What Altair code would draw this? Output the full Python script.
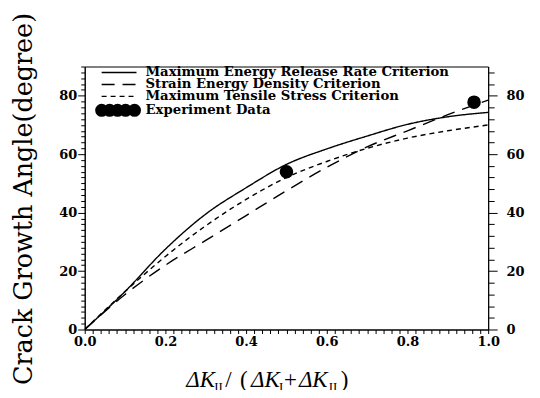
import altair as alt
import pandas as pd

# ---- data ----
x_vals = [0.0, 0.1, 0.2, 0.3, 0.4, 0.5, 0.6, 0.7, 0.8, 0.9, 1.0]
energy_release = [0.0, 13.0, 27.5, 39.5, 48.5, 56.5, 61.8, 66.2, 70.2, 72.8, 74.3]
strain_energy = [0.0, 12.0, 22.0, 30.5, 39.0, 47.5, 55.5, 62.5, 68.0, 73.5, 78.5]
tensile_stress = [0.0, 13.0, 25.0, 35.5, 44.5, 52.0, 57.5, 62.0, 65.5, 68.0, 70.0]
exp_x = [0.5, 0.965]
exp_y = [54.0, 77.8]

series_names = [
    "Maximum Energy Release Rate Criterion",
    "Strain Energy Density Criterion",
    "Maximum Tensile Stress Criterion",
    "Experiment Data",
]
series_values = [energy_release, strain_energy, tensile_stress]
x_ticks = [round(i * 0.02, 2) for i in range(51)]
y_ticks_left = list(range(0, 91, 2))
y_ticks_right = list(range(0, 89, 4))

# ---- layout / style ----
W, H = 405, 264
dashes = [[1, 0], [13, 8], [5, 4]]
LBL_FONT = "DejaVu Serif"
BLACK = "black"

rows = []
for name, vals in zip(series_names[:3], series_values):
    for xv, yv in zip(x_vals, vals):
        rows.append({"x": xv, "y": yv, "series": name})
df_lines = pd.DataFrame(rows)
df_exp = pd.DataFrame({"x": exp_x, "y": exp_y})

xscale = alt.Scale(domain=[0, 1], nice=False, zero=False)
yscale = alt.Scale(domain=[0, 90], nice=False, zero=False)

xaxis = alt.Axis(
    values=x_ticks, title=None, grid=False, format=".1f", orient="bottom",
    labelExpr="round(datum.value*100) % 20 === 0 ? datum.label : ''",
    tickSize=4, tickColor=BLACK, domainColor=BLACK, labelColor=BLACK,
    labelFont=LBL_FONT, labelFontWeight="bold", labelFontSize=13,
    labelPadding=2, labelFlush=False, labelOverlap=False,
)
yaxis_left = alt.Axis(
    values=y_ticks_left, title=None, grid=False, orient="left",
    labelExpr="datum.value % 20 === 0 ? datum.label : ''",
    tickSize={"condition": {"test": "datum.value % 20 === 0", "value": 7}, "value": 4},
    tickColor=BLACK, domainColor=BLACK, labelColor=BLACK,
    labelFont=LBL_FONT, labelFontWeight="bold", labelFontSize=13,
    labelPadding=1, labelOverlap=False,
)
yaxis_right = alt.Axis(
    values=y_ticks_right, title=None, grid=False, orient="right",
    labelExpr="datum.value % 20 === 0 ? datum.label : ''",
    tickSize={"condition": {"test": "datum.value % 20 === 0", "value": 9}, "value": 6},
    tickColor=BLACK, domainColor=BLACK, labelColor=BLACK,
    labelFont=LBL_FONT, labelFontWeight="bold", labelFontSize=13,
    labelPadding=9, labelOverlap=False,
)

lines = alt.Chart(df_lines).mark_line(
    color=BLACK, strokeWidth=1.4, interpolate="monotone", clip=True
).encode(
    x=alt.X("x:Q", scale=xscale, axis=xaxis),
    y=alt.Y("y:Q", scale=yscale, axis=yaxis_left),
    strokeDash=alt.StrokeDash(
        "series:N",
        scale=alt.Scale(domain=series_names[:3], range=dashes),
        legend=None,
    ),
    detail="series:N",
)

points = alt.Chart(df_exp).mark_circle(color=BLACK, opacity=1, size=185).encode(
    x=alt.X("x:Q", scale=xscale, axis=xaxis),
    y=alt.Y("y:Q", scale=yscale, axis=yaxis_right),
)

one = pd.DataFrame({"k": [0]})

# ---- manual legend (pixel positions) ----
row_y = [6, 18, 30, 44]
lx0, lx1, tx = 17, 52, 61
legend_layers = []
for i in range(3):
    legend_layers.append(
        alt.Chart(one).mark_rule(
            color=BLACK, strokeWidth=1.4, strokeDash=dashes[i]
        ).encode(x=alt.value(lx0), x2=alt.value(lx1), y=alt.value(row_y[i]))
    )
for px in [17, 25, 33, 41, 50]:
    legend_layers.append(
        alt.Chart(one).mark_circle(color=BLACK, opacity=1, size=170).encode(
            x=alt.value(px), y=alt.value(row_y[3])
        )
    )
for i, name in enumerate(series_names):
    legend_layers.append(
        alt.Chart(one).mark_text(
            align="left", baseline="middle", font=LBL_FONT, fontWeight="bold",
            fontSize=13.3, color=BLACK, text=name,
        ).encode(x=alt.value(tx), y=alt.value(row_y[i]))
    )

# ---- axis titles as text ----
ytitle = alt.Chart(one).mark_text(
    angle=270, align="center", baseline="middle", font="DejaVu Serif",
    fontSize=25.5, color=BLACK, text="Crack Growth Angle(degree)",
).encode(x=alt.value(-61), y=alt.value(133))

# x title pieces: (text, left x, is_subscript)
pieces = [
    ("\u0394K", 102, False), ("II", 130, True), ("/", 141, False), ("(", 156, False),
    ("\u0394K", 167, False), ("I", 195, True), ("+", 200, False),
    ("\u0394K", 215, False), ("II", 245, True), (")", 257, False),
]
xtitle_layers = []
for txt, px, sub in pieces:
    xtitle_layers.append(
        alt.Chart(one).mark_text(
            align="left", baseline="alphabetic", font="Liberation Serif",
            fontSize=13 if sub else 23, color=BLACK, text=txt,
            fontStyle="italic" if txt.startswith("\u0394") else "normal",
        ).encode(x=alt.value(px), y=alt.value(326 if sub else 322))
    )

chart = alt.layer(lines, points, *legend_layers, ytitle, *xtitle_layers).resolve_scale(
    y="independent", x="shared"
).properties(
    width=W, height=H,
    autosize=alt.AutoSizeParams(type="none"),
    padding={"left": 77, "top": 58, "right": 44, "bottom": 60},
    background="white",
).configure_view(stroke=BLACK, strokeWidth=1)

chart.save("out.html", embed_options={"renderer": "svg", "actions": False})
